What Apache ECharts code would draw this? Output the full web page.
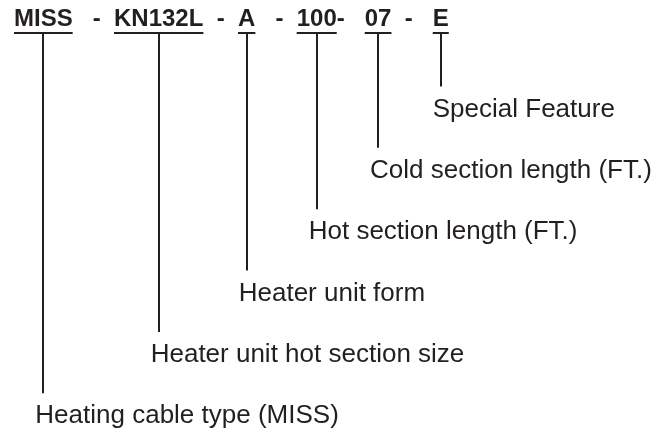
<!doctype html>
<html>
<head>
<meta charset="utf-8">
<title>MISS part number</title>
<script src="https://cdn.jsdelivr.net/npm/echarts@6/dist/echarts.min.js"></script>
<style>
  html, body { margin: 0; padding: 0; background: #fff; }
  #chart { width: 670px; height: 432px; }
</style>
</head>
<body>
<div id="chart"></div>
<script>
  // part number pieces, the dashes between them, and what each piece means
  var codes = ['MISS', 'KN132L', 'A', '100', '07', 'E'];
  var separators = ['   -  ', '  -  ', '   -  ', '-   ', '  -   '];
  var descriptions = [
    'Heating cable type (MISS)',
    'Heater unit hot section size',
    'Heater unit form',
    'Hot section length (FT.)',
    'Cold section length (FT.)',
    'Special Feature'
  ];
  // how far down the callout for each piece hangs (1 = first step)
  var levels = [6, 5, 4, 3, 2, 1];

  var codeFont = 'bold 24px "Liberation Sans", Arial, sans-serif';
  var descFont = '26px "Liberation Sans", Arial, sans-serif';
  var ink = '#231f20';

  // lay the header out like one line of text, so each line hangs from its word
  var ctx = document.createElement('canvas').getContext('2d');
  ctx.font = codeFont;
  var cursor = 0;
  var rows = codes.map(function (code, i) {
    var w = ctx.measureText(code).width;
    var row = [cursor + w / 2, levels[i], cursor, w, i];
    cursor += w + (i < separators.length ? ctx.measureText(separators[i]).width : 0);
    return row;
  });

  var myChart = echarts.init(document.getElementById('chart'));
  myChart.setOption({
    animation: false,
    grid: { left: 14, right: 0, top: 25, bottom: 8 },
    xAxis: { type: 'value', min: 0, max: 656, show: false },
    yAxis: { type: 'value', min: 0, max: 6.5, inverse: true, show: false },
    series: [{
      type: 'custom',
      data: rows,
      renderItem: function (params, api) {
        var i = api.value(4);
        var top = api.coord([0, 0])[1];
        var end = api.coord([api.value(0), api.value(1)]);
        var sx = api.coord([api.value(2), 0])[0];
        var w = api.size([api.value(3), 0])[0];
        var bar = top + 8;
        var children = [
          {
            type: 'text',
            style: { text: codes[i], x: sx, y: top - 6, font: codeFont, fill: ink,
                     align: 'left', verticalAlign: 'middle' }
          },
          {
            type: 'line',
            shape: { x1: sx, y1: bar, x2: sx + w, y2: bar },
            style: { stroke: ink, lineWidth: 2 }
          },
          {
            type: 'line',
            shape: { x1: Math.round(end[0]), y1: bar, x2: Math.round(end[0]), y2: end[1] },
            style: { stroke: ink, lineWidth: 2 }
          },
          {
            type: 'text',
            style: { text: descriptions[i], x: end[0] - 8, y: end[1] + 23, font: descFont,
                     fill: ink, align: 'left', verticalAlign: 'middle' }
          }
        ];
        if (i < separators.length) {
          children.push({
            type: 'text',
            style: { text: separators[i], x: sx + w, y: top - 6, font: codeFont, fill: ink,
                     align: 'left', verticalAlign: 'middle' }
          });
        }
        return { type: 'group', children: children };
      }
    }]
  });
</script>
</body>
</html>
